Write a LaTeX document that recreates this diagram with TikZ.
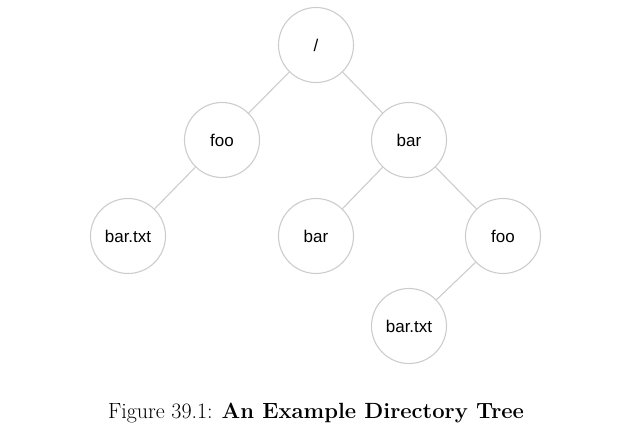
\documentclass[tikz,border=0pt]{standalone}
\usepackage{fontspec}
\newfontfamily\dirfont{Liberation Sans}
\def\dirRadius{37.5pt}
\def\dirLine{1.1pt}
\definecolor{dirgray}{RGB}{204,204,204}
\tikzset{
    dirnode/.style = {circle, draw = dirgray, line width = \dirLine,
        minimum size = {2*\dirRadius}, inner sep = 0pt,
        font = \dirfont\fontsize{17}{20}\selectfont},
    dirlink/.style = {draw = dirgray, line width = \dirLine}
}
\begin{document}
\begin{tikzpicture}[x = 1pt, y = -1pt]
            %% page
            \useasboundingbox (0,0) rectangle (642,439);
            %% directories and files
            \node [dirnode] (root) at (316,45) {/};
            \node [dirnode] (foo) at (222,140) {foo};
            \node [dirnode] (bar) at (409,140) {bar};
            \node [dirnode] (footxt) at (128,236) {bar.txt};
            \node [dirnode] (barbar) at (316,236) {bar};
            \node [dirnode] (barfoo) at (503,236) {foo};
            \node [dirnode] (barfootxt) at (409,326) {bar.txt};
            %% links
            \draw [dirlink]
            (root) -- (foo)
            (root) -- (bar)
            (foo) -- (footxt)
            (bar) -- (barbar)
            (bar) -- (barfoo)
            (barfoo) -- (barfootxt)
            ;
            %% caption
            \node [font = \fontsize{22}{26}\selectfont] (caption) at (316,413)
            {Figure 39.1: \textbf{An Example Directory Tree}};
        \end{tikzpicture}
\end{document}
